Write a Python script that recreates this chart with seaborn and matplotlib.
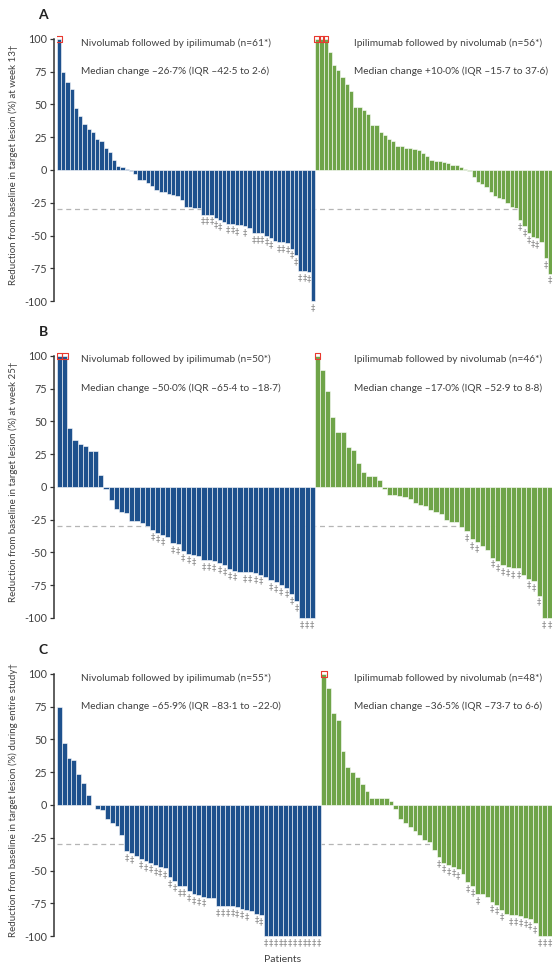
import pandas as pd
import matplotlib.pyplot as plt
import seaborn as sns

# Panel A: week 13
a_nivo = [100, 75, 67, 62, 47, 41, 35, 31, 29, 24, 22, 17, 14, 8, 3, 2, 0.5, -1, -3, -8,
          -8, -10, -12, -15, -17, -17, -18, -19, -20, -23, -28, -28, -29, -29, -34, -34, -34, -37, -38, -40,
          -41, -41, -42, -42, -43, -44, -48, -48, -48, -50, -52, -54, -55, -55, -56, -60, -65, -77, -77, -78,
          -100]
a_nivo_dd = [34, 35, 36, 37, 38, 40, 41, 42, 44, 46, 47, 48, 49, 50, 52, 53, 54, 55, 56, 57, 58, 59, 60]
a_ipi = [100, 100, 100, 90, 80, 76, 71, 66, 60, 48, 48, 46, 43, 34, 34, 29, 27, 24, 22, 18,
         18, 17, 17, 16, 15, 13, 11, 8, 7, 7, 6, 5, 4, 3.5, 2.5, 1, -1, -5, -9, -11,
         -13, -17, -20, -21, -22, -25, -28, -29, -38, -43, -48, -51, -52, -55, -67, -79]
a_ipi_dd = [48, 49, 50, 51, 52, 54, 55]

# Panel B: week 25
b_nivo = [100, 100, 45, 36, 33, 31, 27, 27, 9, -2, -10, -17, -19, -20, -26, -26, -28, -30, -33, -35,
          -37, -38, -43, -44, -49, -51, -52, -53, -56, -56, -57, -58, -60, -63, -64, -65, -65, -65, -66, -67,
          -69, -71, -73, -75, -77, -82, -87, -100, -100, -100]
b_nivo_dd = [18, 19, 20, 22, 23, 24, 25, 26, 28, 29, 30, 31, 32, 33, 34, 36, 37, 38, 39, 41, 42, 43,
             44, 45, 46, 47, 48, 49]
b_ipi = [100, 89, 73, 53, 42, 42, 30, 28, 18, 11, 8, 8, 5, -2, -6, -6, -7, -8, -9, -12,
         -14, -15, -18, -19, -21, -25, -27, -27, -31, -34, -40, -42, -45, -48, -54, -57, -60, -61, -62, -62,
         -67, -70, -72, -83, -100, -100]
b_ipi_dd = [29, 30, 31, 34, 35, 36, 37, 38, 39, 41, 42, 43, 44, 45]

# Panel C: entire study
c_nivo = [75, 47, 36, 34, 24, 17, 8, 0, -3, -4, -11, -14, -16, -23, -35, -37, -39, -41, -43, -44,
          -46, -47, -48, -55, -58, -62, -62, -66, -68, -69, -70, -71, -71, -77, -77, -77, -77, -78, -79, -80,
          -81, -83, -84, -100, -100, -100, -100, -100, -100, -100, -100, -100, -100, -100, -100]
c_nivo_dd = [14, 15, 17, 18, 19, 20, 21, 22, 23, 24, 25, 26, 27, 28, 29, 30, 33, 34, 35, 36, 37, 38,
             39, 41, 42] + list(range(43, 55))
c_ipi = [100, 89, 70, 65, 41, 29, 25, 21, 16, 11, 5, 5, 5, 5, 3, -3, -11, -14, -17, -20,
         -23, -27, -28, -34, -40, -44, -46, -47, -49, -53, -59, -62, -68, -68, -70, -74, -76, -80, -83, -84,
         -84, -85, -86, -87, -90, -100, -100, -100]
c_ipi_dd = [24, 25, 26, 27, 28, 30, 31, 32, 35, 36, 37, 39, 40, 41, 42, 43, 44, 45, 46, 47]

panels = [
    ("A", a_nivo, a_nivo_dd, a_ipi, a_ipi_dd, "at week 13\u2020",
     ["Nivolumab followed by ipilimumab (n=61*)", "Median change \u201326\u00b77% (IQR \u201342\u00b75 to 2\u00b76)"],
     ["Ipilimumab followed by nivolumab (n=56*)", "Median change +10\u00b70% (IQR \u201315\u00b77 to 37\u00b76)"]),
    ("B", b_nivo, b_nivo_dd, b_ipi, b_ipi_dd, "at week 25\u2020",
     ["Nivolumab followed by ipilimumab (n=50*)", "Median change \u201350\u00b70% (IQR \u201365\u00b74 to \u201318\u00b77)"],
     ["Ipilimumab followed by nivolumab (n=46*)", "Median change \u201317\u00b70% (IQR \u201352\u00b79 to 8\u00b78)"]),
    ("C", c_nivo, c_nivo_dd, c_ipi, c_ipi_dd, "during entire study\u2020",
     ["Nivolumab followed by ipilimumab (n=55*)", "Median change \u201365\u00b79% (IQR \u201383\u00b71 to \u201322\u00b70)"],
     ["Ipilimumab followed by nivolumab (n=48*)", "Median change \u201336\u00b75% (IQR \u201373\u00b77 to 6\u00b76)"]),
]

blue = "#0b4fa0"
green = "#6cb33a"
text_col = "#404040"

sns.set_style("white")
plt.rcParams['font.family'] = ['Lato', 'DejaVu Sans']

fig = plt.figure(figsize=(5.56, 9.69), dpi=100)
W, H = 556, 969
x0, x1 = 57, 552
tops = [32.4, 349.2, 667.4]
ph = 288.3

for (lab, nivo, nivo_dd, ipi, ipi_dd, when, t1, t2), top in zip(panels, tops):
    ax = fig.add_axes([x0 / W, 1 - (top + ph) / H, (x1 - x0) / W, ph / H])
    vals = nivo + ipi
    df = pd.DataFrame({
        "pos": range(len(vals)),
        "value": vals,
        "arm": ["nivo"] * len(nivo) + ["ipi"] * len(ipi),
    })
    sns.barplot(data=df, x="pos", y="value", hue="arm", palette={"nivo": blue, "ipi": green},
                dodge=False, width=1, errorbar=None, edgecolor="white", linewidth=0.4,
                legend=False, ax=ax)
    ax.set_xlim(-0.5, len(vals) - 0.5)
    ax.set_ylim(-115, 105)
    ax.axhline(-30, color="#b5b5b5", lw=0.9, ls=(0, (4, 3)), zorder=0.5)

    # capped at 100%: red open squares
    capped = df[df["value"] >= 100]
    ax.scatter(capped["pos"], capped["value"], marker="s", s=16, facecolor="none",
               edgecolor="#e8392f", linewidth=0.8, zorder=5)

    # double daggers under bars
    dd = nivo_dd + [len(nivo) + i for i in ipi_dd]
    for i in dd:
        ax.text(i, vals[i] - 1.5, "\u2021", ha="center", va="top", fontsize=6,
                color="#8a8a8a", family=["DejaVu Sans"])

    tr = ax.get_yaxis_transform()
    ax.text(0.0485, 97, t1[0], transform=tr, fontsize=7.3, color=text_col, va="center")
    ax.text(0.0485, 75, t1[1], transform=tr, fontsize=7.3, color=text_col, va="center")
    ax.text(0.6, 97, t2[0], transform=tr, fontsize=7.3, color=text_col, va="center")
    ax.text(0.6, 75, t2[1], transform=tr, fontsize=7.3, color=text_col, va="center")

    ax.set_yticks([100, 75, 50, 25, 0, -25, -50, -75, -100])
    ax.set_yticklabels(["100", "75", "50", "25", "0", "-25", "-50", "-75", "-100"])
    ax.tick_params(axis="y", left=True, length=3, width=0.9, color="#333333",
                   labelsize=7.8, labelcolor=text_col, pad=2)
    ax.set_xticks([])
    ax.set_xlabel("")
    for s in ["top", "right", "bottom"]:
        ax.spines[s].set_visible(False)
    ax.spines["left"].set_position(("outward", 2))
    ax.spines["left"].set_bounds(-100, 100)
    ax.spines["left"].set_color("#333333")
    ax.spines["left"].set_linewidth(1.1)
    ax.set_ylabel("Reduction from baseline in target lesion (%) " + when,
                  fontsize=7.0, color=text_col)
    ax.yaxis.set_label_coords(-0.079, 0.54)

    fig.text(43 / W, 1 - (top - 17) / H, lab, fontsize=10, fontweight="bold",
             color="#222222", va="center", ha="center")

fig.text(283 / W, 1 - 960 / H, "Patients", fontsize=7.5, color=text_col, ha="center", va="center")

plt.savefig("out.png", dpi=100)
